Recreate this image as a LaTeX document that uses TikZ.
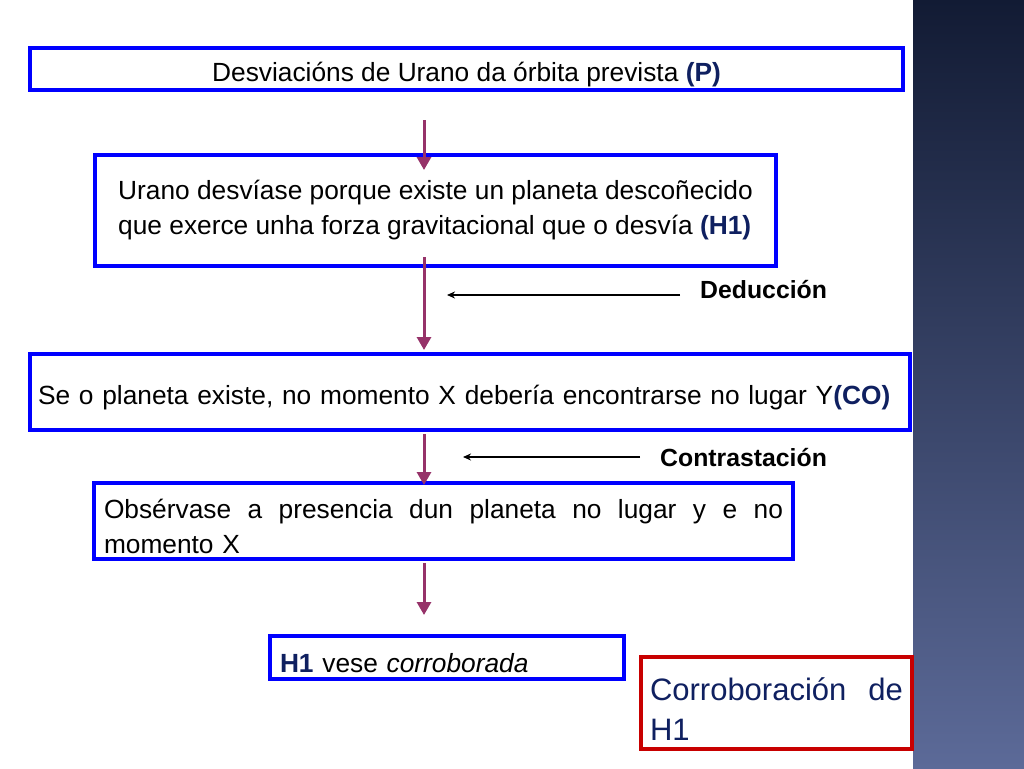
\documentclass[tikz,border=0pt]{standalone}
\usepackage{fontspec}
\setmainfont{Liberation Sans}
\usepackage{tikz}
\usetikzlibrary{positioning,arrows.meta}

\definecolor{boxblue}{RGB}{0,0,255}
\definecolor{flowpurple}{RGB}{150,50,105}
\definecolor{navy}{RGB}{15,32,96}
\definecolor{boxred}{RGB}{200,0,0}
\definecolor{stripTop}{RGB}{18,27,52}
\definecolor{stripBot}{RGB}{92,106,152}

\begin{document}
\begin{tikzpicture}[x=1pt,y=-1pt]
	\tikzset{
		stmt/.style={draw=boxblue,line width=4pt,fill=white,inner ysep=0pt,
			font=\fontsize{26.3}{35}\selectfont,execute at begin node={\rule{0pt}{1.13em}}},
		flow/.style={draw=flowpurple,line width=3pt,-{Triangle[width=14pt,length=13pt]}},
		hint/.style={inner sep=0pt,font=\bfseries\fontsize{24.8}{28}\selectfont},
		hintarrow/.style={draw=black,line width=1.5pt,-{Stealth[length=8pt,width=7pt]}}
	}
	\useasboundingbox (0,0) rectangle (1024,768);
	\fill[white] (0,0) rectangle (1024,768);
	\shade[top color=stripTop,bottom color=stripBot] (913,0) rectangle (1024,768);

	\coordinate (ax) at (424,0);

	%% statements
	\node[stmt,align=center,minimum width=873,minimum height=42] (P) at (466.5,69)
		{Desviacións de Urano da órbita prevista \textcolor{navy}{\bfseries(P)}};
	\node[stmt,align=left,minimum width=681,minimum height=111] (H1) at (435.5,210.5)
		{Urano desvíase porque existe un planeta descoñecido\\que exerce unha forza gravitacional que o desvía \textcolor{navy}{\bfseries(H1)}};
	\node[stmt,align=left,inner xsep=8,text width=864,minimum height=76] (CO) at (470,392)
		{Se o planeta existe, no momento X debería encontrarse no lugar Y\textcolor{navy}{\bfseries(CO)}};
	\node[stmt,align=left,inner xsep=10,text width=679,minimum height=76] (obs) at (443.5,521)
		{\makebox[679pt][s]{\spaceskip=.3333em plus 1fil Obsérvase a presencia dun planeta no lugar y e no}\\momento X};
	\node[stmt,align=left,inner xsep=10,text width=334,minimum height=43] (corr) at (447,657.5)
		{\textcolor{navy}{\bfseries H1} vese \textit{corroborada}};
	\node[stmt,draw=boxred,align=left,inner xsep=9,text width=253,minimum height=92,
		text=navy,font=\fontsize{31}{40}\selectfont] (res) at (776.5,703)
		{Corroboración\hfill de\\H1};

	%% flow
	\draw[flow,shorten <=28pt,shorten >=-17pt] (P.south -| ax) -- (H1.north -| ax);
	\draw[flow,shorten <=-11pt,shorten >=2pt] (H1.south -| ax) -- (CO.north -| ax);
	\draw[flow,shorten <=2pt,shorten >=-4pt] (CO.south -| ax) -- (obs.north -| ax);
	\draw[flow,shorten <=2pt,shorten >=19pt] (obs.south -| ax) -- (corr.north -| ax);

	%% side notes
	\node[hint,anchor=west] (ded) at (700,290) {Deducción};
	\node[hint,anchor=west] (con) at (660,458) {Contrastación};
	\coordinate (dedtip) at (447,295);
	\coordinate (contip) at (463,457);
	\draw[hintarrow] ([xshift=-20pt,yshift=-5pt]ded.west) -- (dedtip);
	\draw[hintarrow] ([xshift=-20pt,yshift=1pt]con.west) -- (contip);
\end{tikzpicture}
\end{document}
